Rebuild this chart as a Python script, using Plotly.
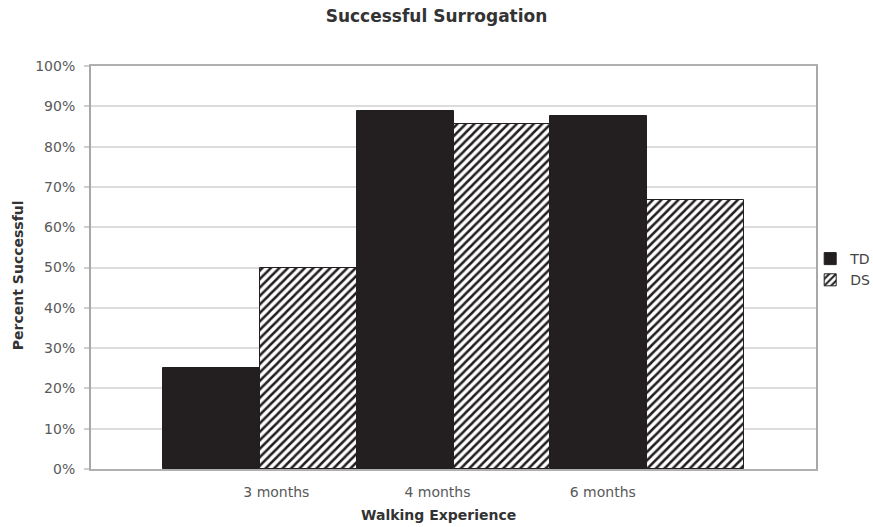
import plotly.graph_objects as go

# Walking-experience groups and success rates (fraction of children)
categories = ["3 months", "4 months", "6 months"]
td_success = [0.25, 0.889, 0.875]
ds_success = [0.50, 0.857, 0.667]
y_ticks = [0, 0.1, 0.2, 0.3, 0.4, 0.5, 0.6, 0.7, 0.8, 0.9, 1.0]

positions = list(range(len(categories)))
font_family = "DejaVu Sans, Verdana, sans-serif"
bar_dark = "#231f20"

fig = go.Figure()
fig.add_trace(go.Bar(
    name="TD", x=positions, y=td_success,
    marker=dict(color=bar_dark, line=dict(color=bar_dark, width=1)),
))
fig.add_trace(go.Bar(
    name="DS", x=positions, y=ds_success,
    marker=dict(
        color="white",
        line=dict(color=bar_dark, width=1),
        pattern=dict(shape="/", size=6, solidity=0.42,
                     fgcolor=bar_dark, bgcolor="white", fillmode="replace"),
    ),
))

fig.update_layout(
    width=873, height=527,
    margin=dict(l=91, r=57, t=66, b=58, autoexpand=False),
    paper_bgcolor="white", plot_bgcolor="white",
    barmode="group", bargap=0, bargroupgap=0,
    font=dict(family=font_family, size=14, color="#595959"),
    title=dict(text="<b>Successful Surrogation</b>", x=0.5, xanchor="center",
               y=0.032, yanchor="middle", yref="container",
               font=dict(size=17, color="#333333")),
    legend=dict(x=0.992, xanchor="left", y=0.495, yanchor="middle",
                bgcolor="rgba(0,0,0,0)", itemwidth=30, tracegroupgap=0,
                font=dict(size=14, color="#444444")),
    showlegend=True,
)
# container y measured from the bottom
fig.layout.title.y = 1 - 16 / 527

fig.update_xaxes(
    range=[-0.872, 2.872],
    tickmode="array",
    tickvals=[0.085, 0.917, 1.771],
    ticktext=categories,
    ticks="", ticklabelstandoff=9,
    showgrid=False, zeroline=False,
    showline=True, mirror=True, linecolor="#b0b0b0", linewidth=2,
)
fig.update_yaxes(
    range=[0, 1],
    tickmode="array", tickvals=y_ticks, tickformat=".0%",
    ticks="outside", ticklen=5, tickcolor="#cfcfcf", tickwidth=1.5,
    ticklabelstandoff=6,
    showgrid=True, gridcolor="#dcdcdc", gridwidth=1.5,
    zeroline=False,
    showline=True, mirror=True, linecolor="#a8a8a8", linewidth=2,
)

fig.add_annotation(
    text="<b>Walking Experience</b>", xref="paper", yref="paper",
    x=0.479, y=-0.114, xanchor="center", yanchor="middle", showarrow=False,
    font=dict(size=14, color="#333333"),
)
fig.add_annotation(
    text="<b>Percent Successful</b>", xref="paper", yref="paper",
    x=-0.1007, y=0.481, xanchor="center", yanchor="middle", showarrow=False,
    textangle=-90, font=dict(size=14, color="#333333"),
)

fig.write_html("out.html")
